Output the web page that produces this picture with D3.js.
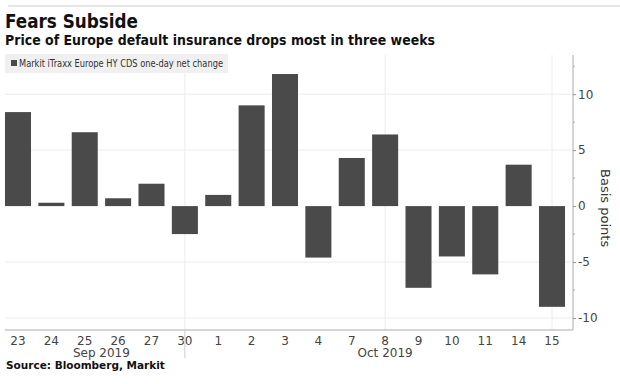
<!DOCTYPE html>
<html lang="en">

<head>
    <meta charset="UTF-8">
    <title>Fears Subside</title>
    <script src="https://cdn.jsdelivr.net/npm/d3@7"></script>
    <style>
        body { margin: 0; background: #fff; }
        text { font-family: "DejaVu Sans", sans-serif; }
    </style>
</head>

<body>
    <div id="container"></div>
</body>
<script>

    // data
    const days = ["23", "24", "25", "26", "27", "30", "1", "2", "3", "4", "7", "8", "9", "10", "11", "14", "15"];
    const changes = [8.4, 0.3, 6.6, 0.7, 2.0, -2.5, 1.0, 9.0, 11.8, -4.6, 4.3, 6.4, -7.3, -4.5, -6.1, 3.7, -9.0];
    const yTicks = [-10, -5, 0, 5, 10];
    const gridDays = ["30", "8", "15"];
    const months = [{ label: "Sep 2019", from: "23", to: "30" }, { label: "Oct 2019", from: "1", to: "15" }];

    const W = 620, H = 384;
    const plot = { left: 1.3, right: 573, top: 55, bottom: 330 };

    const svg = d3.create("svg")
        .attr("width", W)
        .attr("height", H);

    // top rule
    svg.append("line")
        .attr("x1", 8).attr("x2", W).attr("y1", 6).attr("y2", 6)
        .attr("stroke", "#ccc").attr("stroke-width", 1);

    svg.append("text")
        .attr("x", 5).attr("y", 28)
        .attr("font-size", 19).attr("font-weight", "bold").attr("fill", "#111")
        .attr("textLength", 133).attr("lengthAdjust", "spacingAndGlyphs")
        .text("Fears Subside");

    svg.append("text")
        .attr("x", 5).attr("y", 45)
        .attr("font-size", 14).attr("font-weight", "bold").attr("fill", "#111")
        .attr("textLength", 430).attr("lengthAdjust", "spacingAndGlyphs")
        .text("Price of Europe default insurance drops most in three weeks");

    const x = d3.scaleBand()
        .domain(days)
        .range([plot.left, 568.7])
        .paddingInner(0.22)
        .paddingOuter(0.11);

    const y = d3.scaleLinear()
        .domain([-11.07, 13.5])
        .range([plot.bottom, plot.top]);

    // horizontal grid
    svg.append("g")
        .selectAll("line")
        .data(yTicks.filter(d => d !== 0))
        .join("line")
        .attr("x1", 5).attr("x2", plot.right)
        .attr("y1", d => y(d)).attr("y2", d => y(d))
        .attr("stroke", "#ececec");

    // vertical grid
    svg.append("g")
        .selectAll("line")
        .data(gridDays)
        .join("line")
        .attr("x1", d => x(d) + x.bandwidth() / 2).attr("x2", d => x(d) + x.bandwidth() / 2)
        .attr("y1", plot.top).attr("y2", plot.bottom)
        .attr("stroke", "#ececec");

    // legend box
    svg.append("rect")
        .attr("x", 5).attr("y", 54).attr("width", 223).attr("height", 19)
        .attr("fill", "#f0f0f0");
    svg.append("rect")
        .attr("x", 11).attr("y", 60).attr("width", 6).attr("height", 6)
        .attr("fill", "#4a4a4a");
    svg.append("text")
        .attr("x", 19).attr("y", 67)
        .attr("font-size", 10).attr("fill", "#333")
        .attr("textLength", 204).attr("lengthAdjust", "spacingAndGlyphs")
        .text("Markit iTraxx Europe HY CDS one-day net change");

    // bars
    svg.append("g")
        .selectAll("rect")
        .data(changes)
        .join("rect")
        .attr("x", (d, i) => x(days[i]))
        .attr("width", x.bandwidth())
        .attr("y", d => y(Math.max(0, d)))
        .attr("height", d => Math.abs(y(d) - y(0)))
        .attr("fill", "#4a4a4a");

    // right axis
    const yAxis = d3.axisRight(y)
        .tickValues(yTicks)
        .tickSize(3)
        .tickPadding(2)
        .tickFormat(d3.format("d"));
    const gy = svg.append("g")
        .attr("transform", `translate(${plot.right},0)`)
        .call(yAxis);
    gy.select(".domain").attr("stroke", "#aaa").attr("d", `M0,${plot.top}V${plot.bottom}`);
    gy.selectAll(".tick line").attr("stroke", "#999");
    gy.selectAll(".tick text").attr("font-size", 12).attr("fill", "#444")
        .attr("font-family", "'DejaVu Sans Condensed', 'DejaVu Sans', sans-serif")
        .text(d => d < 0 ? "-" + Math.abs(d) : d);
    // minor ticks
    gy.append("g")
        .selectAll("line")
        .data(d3.range(-10, 13, 2.5).filter(d => !yTicks.includes(d)))
        .join("line")
        .attr("x1", 0).attr("x2", 2)
        .attr("y1", d => y(d)).attr("y2", d => y(d))
        .attr("stroke", "#aaa");

    svg.append("text")
        .attr("transform", `translate(601,${y(0) + 2}) rotate(90)`)
        .attr("text-anchor", "middle")
        .attr("font-size", 13).attr("fill", "#333")
        .text("Basis points");

    // x axis
    const xAxis = d3.axisBottom(x).tickSize(0).tickPadding(6);
    const gx = svg.append("g")
        .attr("transform", `translate(0,${plot.bottom})`)
        .call(xAxis);
    gx.select(".domain").attr("stroke", "#aaa").attr("d", `M5,0H${plot.right}`);
    gx.selectAll(".tick text").attr("font-size", 12).attr("fill", "#444")
        .attr("font-family", "'DejaVu Sans Condensed', 'DejaVu Sans', sans-serif");

    // month separator and labels
    const sepX = x("30") + x.bandwidth() / 2;
    svg.append("line")
        .attr("x1", sepX).attr("x2", sepX)
        .attr("y1", plot.bottom).attr("y2", plot.bottom + 28)
        .attr("stroke", "#ccc");
    svg.append("g")
        .selectAll("text")
        .data(months)
        .join("text")
        .attr("x", d => (x(d.from) + x(d.to) + x.bandwidth()) / 2)
        .attr("y", plot.bottom + 27)
        .attr("text-anchor", "middle")
        .attr("font-size", 12).attr("fill", "#444")
        .attr("font-family", "'DejaVu Sans Condensed', 'DejaVu Sans', sans-serif")
        .text(d => d.label);

    svg.append("text")
        .attr("x", 6).attr("y", 369)
        .attr("font-size", 10.5).attr("font-weight", "bold").attr("fill", "#111")
        .text("Source: Bloomberg, Markit");

    d3.select("#container").node().append(svg.node());

</script>

</html>
